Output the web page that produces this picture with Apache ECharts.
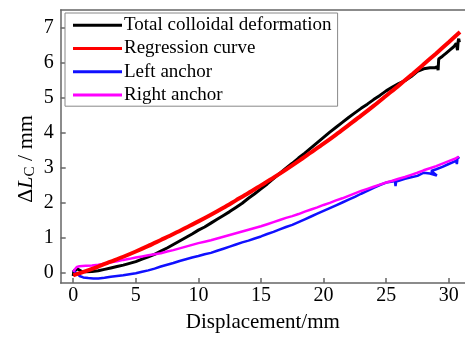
<!DOCTYPE html>
<html>
<head>
<meta charset="utf-8">
<script src="https://cdn.jsdelivr.net/npm/echarts@6/dist/echarts.min.js"></script>
<style>
html,body{margin:0;padding:0;background:#fff;}
#chart{width:465px;height:338px;}
</style>
</head>
<body>
<div id="chart"></div>
<script>
var seriesNames = ['Total colloidal deformation', 'Regression curve', 'Left anchor', 'Right anchor'];
var xTicks = [0, 5, 10, 15, 20, 25, 30];
var yTicks = [0, 1, 2, 3, 4, 5, 6, 7];

var totalDeformation = [
[0,-0.1],[0.05,0.05],[0.2,0.06],[0.35,0.1],[0.5,0.07],[0.7,0.03],[1,0.02],[1.5,0.03],[2,0.05],[2.5,0.09],
[3,0.13],[3.5,0.17],[4,0.21],[4.5,0.26],[5,0.31],[5.5,0.38],[6,0.45],[6.5,0.52],[7,0.61],[7.5,0.7],
[8,0.8],[8.5,0.9],[9,1.0],[9.5,1.1],[10,1.21],[10.5,1.3],[11,1.41],[11.5,1.52],[12,1.63],[12.5,1.74],
[13,1.86],[13.5,1.98],[14,2.12],[14.5,2.25],[15,2.39],[15.5,2.53],[16,2.68],[16.5,2.83],[17,2.98],[17.5,3.12],
[18,3.27],[18.5,3.41],[19,3.56],[19.5,3.71],[20,3.86],[20.5,4.01],[21,4.15],[21.5,4.29],[22,4.43],[22.5,4.56],
[23,4.69],[23.5,4.81],[24,4.94],[24.5,5.06],[25,5.19],[25.5,5.3],[26,5.4],[26.5,5.48],[27,5.6],[27.5,5.75],
[28,5.82],[28.5,5.85],[28.9,5.85],[29.1,5.88],[29.15,5.78],[29.2,6.1],[29.5,6.18],[29.8,6.27],[30.1,6.36],[30.4,6.45],
[30.55,6.42],[30.6,6.55],[30.7,6.35],[30.75,6.6],[30.8,6.68],[30.85,6.58]
];

var regressionCurve = [
[0,-0.08],[1,0.04],[2,0.17],[3,0.31],[4,0.45],[5,0.6],[6,0.76],[7,0.93],[8,1.1],[9,1.28],
[10,1.46],[11,1.65],[12,1.85],[13,2.06],[14,2.27],[15,2.49],[16,2.71],[17,2.94],[18,3.18],[19,3.43],
[20,3.68],[21,3.94],[22,4.21],[23,4.48],[24,4.76],[25,5.05],[26,5.34],[27,5.64],[28,5.95],[29,6.26],
[30,6.58],[30.9,6.87]
];

var leftAnchor = [
[0,0.05],[0.15,0.08],[0.3,-0.02],[0.5,-0.1],[0.8,-0.14],[1.2,-0.16],[1.6,-0.17],[2,-0.17],[2.5,-0.15],[3,-0.12],
[3.5,-0.1],[4,-0.08],[4.5,-0.05],[5,-0.02],[5.5,0.02],[6,0.06],[6.5,0.11],[7,0.17],[7.5,0.22],[8,0.27],
[8.5,0.33],[9,0.38],[9.5,0.43],[10,0.47],[10.5,0.52],[11,0.56],[11.5,0.62],[12,0.68],[12.5,0.74],[13,0.8],
[13.5,0.86],[14,0.91],[14.5,0.97],[15,1.03],[15.5,1.1],[16,1.16],[16.5,1.23],[17,1.3],[17.5,1.36],[18,1.44],
[18.5,1.52],[19,1.6],[19.5,1.68],[20,1.76],[20.5,1.84],[21,1.92],[21.5,2.0],[22,2.08],[22.5,2.16],[23,2.25],
[23.5,2.33],[24,2.42],[24.5,2.5],[25,2.57],[25.5,2.6],[25.7,2.62],[25.75,2.47],[25.8,2.6],[26,2.62],[26.5,2.68],
[27,2.72],[27.5,2.76],[28,2.85],[28.5,2.83],[29.05,2.77],[28.6,2.9],[29,2.95],[29.5,3.02],[30,3.1],[30.4,3.16],
[30.6,3.2],[30.65,3.1],[30.7,3.26],[30.8,3.22],[30.85,3.3]
];

var rightAnchor = [
[0,0.02],[0.15,0.1],[0.3,0.16],[0.5,0.18],[1,0.19],[1.5,0.2],[2,0.22],[2.5,0.25],[3,0.29],[3.5,0.32],
[4,0.36],[4.5,0.39],[5,0.43],[5.5,0.46],[6,0.49],[6.5,0.52],[7,0.55],[7.5,0.6],[8,0.64],[8.5,0.69],
[9,0.74],[9.5,0.79],[10,0.84],[10.5,0.88],[11,0.92],[11.5,0.97],[12,1.02],[12.5,1.07],[13,1.12],[13.5,1.17],
[14,1.22],[14.5,1.27],[15,1.32],[15.5,1.38],[16,1.44],[16.5,1.5],[17,1.56],[17.5,1.61],[18,1.67],[18.5,1.74],
[19,1.8],[19.5,1.86],[20,1.93],[20.5,1.99],[21,2.06],[21.5,2.12],[22,2.19],[22.5,2.26],[23,2.33],[23.5,2.39],
[24,2.45],[24.5,2.51],[25,2.57],[25.5,2.62],[26,2.68],[26.5,2.73],[27,2.79],[27.5,2.85],[28,2.92],[28.5,2.98],
[29,3.04],[29.5,3.11],[30,3.18],[30.5,3.25],[30.8,3.31]
];

var FONT = '"Liberation Serif", "Times New Roman", serif';
var AXIS_COLOR = '#666';

var chart = echarts.init(document.getElementById('chart'), null, {renderer: 'canvas'});
var option = {
  animation: false,
  backgroundColor: '#fff',
  textStyle: {fontFamily: FONT},
  grid: {left: 60.7, top: 10, right: 0, bottom: 52.3, containLabel: false},
  legend: {
    orient: 'vertical',
    left: 65, top: 13,
    data: seriesNames,
    icon: 'rect',
    itemWidth: 49, itemHeight: 3, itemGap: 3,
    padding: [2, 6, 1, 8],
    borderColor: '#888', borderWidth: 1,
    backgroundColor: '#fff',
    textStyle: {fontFamily: FONT, fontSize: 19, color: '#000', lineHeight: 20.3, padding: [0, 0, 0, -3]}
  },
  xAxis: [{
    type: 'value', min: -1, max: 31.3,
    name: 'Displacement/mm', nameLocation: 'middle', nameGap: 29,
    nameTextStyle: {fontFamily: FONT, fontSize: 21, color: '#000'},
    axisLine: {show: true, onZero: false, lineStyle: {color: AXIS_COLOR, width: 1.5}},
    axisTick: {show: true, inside: true, length: 5, customValues: xTicks, lineStyle: {color: AXIS_COLOR, width: 1.5}},
    axisLabel: {customValues: xTicks, margin: 3, fontFamily: FONT, fontSize: 20, color: '#000'},
    splitLine: {show: false}
  }, {
    type: 'value', min: -1, max: 31.3, position: 'top',
    axisLine: {show: true, onZero: false, lineStyle: {color: AXIS_COLOR, width: 1.5}},
    axisTick: {show: false}, axisLabel: {show: false}, splitLine: {show: false}
  }],
  yAxis: {
    type: 'value', min: -0.3, max: 7.5,
    axisLine: {show: true, onZero: false, lineStyle: {color: AXIS_COLOR, width: 1.5}},
    axisTick: {show: true, inside: true, length: 5, customValues: yTicks, lineStyle: {color: AXIS_COLOR, width: 1.5}},
    axisLabel: {customValues: yTicks, margin: 7, fontFamily: FONT, fontSize: 20, color: '#000'},
    splitLine: {show: false}
  },
  graphic: [{
    type: 'text',
    x: 26.5, y: 159,
    rotation: Math.PI / 2,
    style: {
      text: '{a|Δ}{i|L}{s|C}{a| / mm}',
      align: 'center', verticalAlign: 'middle',
      fill: '#000',
      rich: {
        a: {fontFamily: FONT, fontSize: 22, lineHeight: 22, fill: '#000'},
        i: {fontFamily: FONT, fontSize: 22, lineHeight: 22, fontStyle: 'italic', fill: '#000'},
        s: {fontFamily: FONT, fontSize: 15, lineHeight: 10, verticalAlign: 'bottom', fill: '#000'}
      }
    }
  }],
  series: [
    {name: seriesNames[0], type: 'line', data: totalDeformation, showSymbol: false, symbol: 'none',
     lineStyle: {color: '#000', width: 3}, itemStyle: {color: '#000'}, z: 2},
    {name: seriesNames[2], type: 'line', data: leftAnchor, showSymbol: false, symbol: 'none',
     lineStyle: {color: '#1010ff', width: 2.5}, itemStyle: {color: '#1010ff'}, z: 3},
    {name: seriesNames[3], type: 'line', data: rightAnchor, showSymbol: false, symbol: 'none',
     lineStyle: {color: '#ff00ff', width: 2.5}, itemStyle: {color: '#ff00ff'}, z: 4},
    {name: seriesNames[1], type: 'line', data: regressionCurve, showSymbol: false, symbol: 'none', smooth: 0.3,
     lineStyle: {color: '#ff0000', width: 4}, itemStyle: {color: '#ff0000'}, z: 5}
  ]
};
chart.setOption(option);
</script>
</body>
</html>
